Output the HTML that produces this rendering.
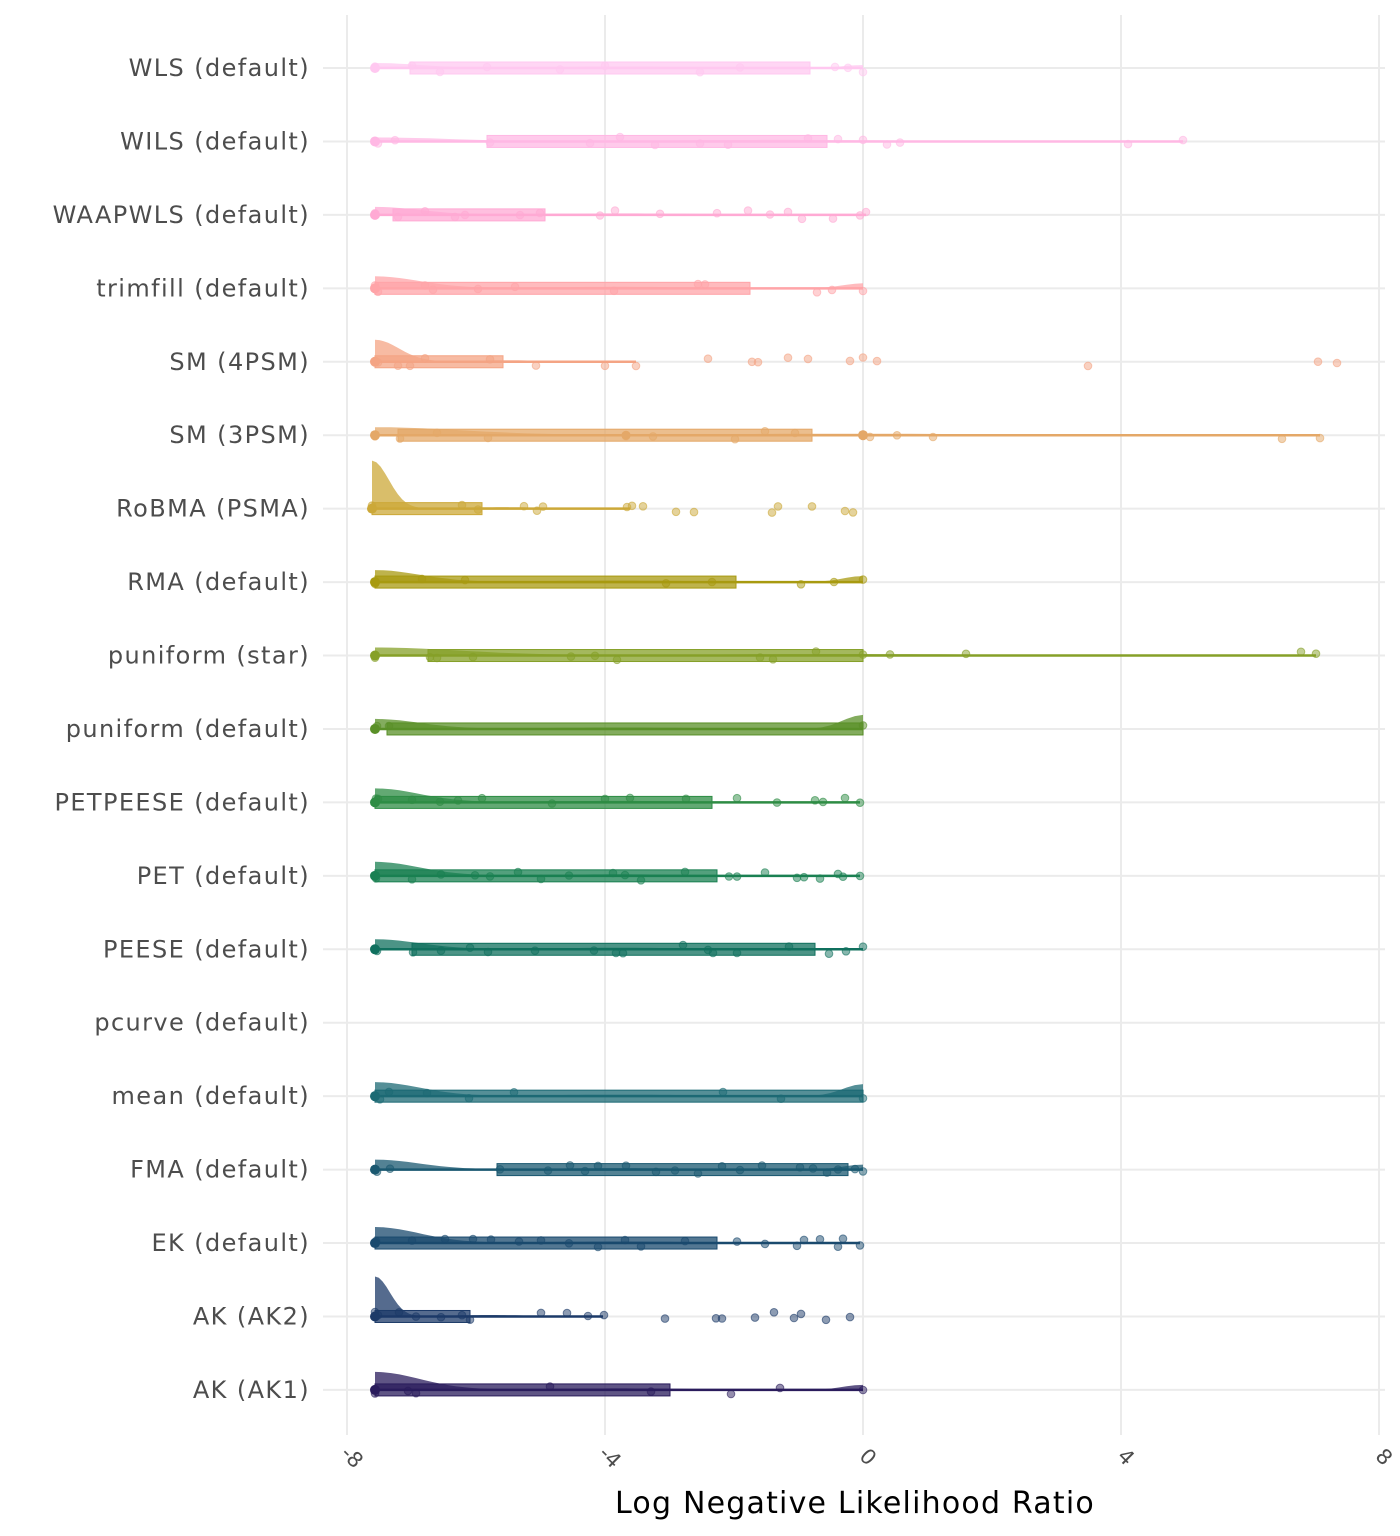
<!DOCTYPE html>
<html><head><meta charset="utf-8"><style>
body{margin:0;background:#fff}
svg{display:block}
text{font-family:"DejaVu Sans","Liberation Sans",sans-serif}
</style></head><body>
<svg id="s" width="1400" height="1536" xmlns="http://www.w3.org/2000/svg">
<g stroke="#ebebeb" stroke-width="2">
<line x1="347" y1="15" x2="347" y2="1435"/><line x1="605" y1="15" x2="605" y2="1435"/>
<line x1="863" y1="15" x2="863" y2="1435"/><line x1="1121" y1="15" x2="1121" y2="1435"/>
<line x1="1379" y1="15" x2="1379" y2="1435"/>
</g>
<g id="rows"></g>
<g font-size="24" fill="#4d4d4d" text-anchor="end" id="labs" style="letter-spacing:1.4px"></g>
<g font-size="21" fill="#4d4d4d" text-anchor="middle">
<text transform="translate(347,1462) rotate(45)">-8</text>
<text transform="translate(605,1462) rotate(45)">-4</text>
<text transform="translate(863,1462) rotate(45)">0</text>
<text transform="translate(1121,1462) rotate(45)">4</text>
<text transform="translate(1379,1462) rotate(45)">8</text>
</g>
<text x="855" y="1513" font-size="30" text-anchor="middle" fill="#000" style="letter-spacing:1.2px">Log Negative Likelihood Ratio</text>
</svg>
<script>
var R=[
["WLS (default)","#ffc8f0",375,863,410,810,5,[375,412,440,487,560,605,700,740,835,848,863]],
["WILS (default)","#ffb8e4",375,1183,487,827,4,[378,395,490,590,620,655,700,728,808,838,863,887,900,1128,1183]],
["WAAPWLS (default)","#ffaad4",375,866,393,545,8,[375,398,425,455,465,520,540,600,615,660,717,748,770,788,802,833,860,866]],
["trimfill (default)","#ffa4a8",375,863,375,750,12,[375,378,425,433,478,515,614,698,705,817,832,863]],
["SM (4PSM)","#f4a484",375,636,375,503,22,[378,398,410,425,490,536,605,636,708,752,758,788,808,850,863,877,1088,1318,1337]],
["SM (3PSM)","#e4a868",375,1320,398,812,8,[375,400,437,488,626,653,735,765,795,863,870,897,933,1282,1320]],
["RoBMA (PSMA)","#cca838",372,630,372,482,48,[372,462,478,524,537,543,627,632,643,676,694,772,778,812,845,853]],
["RMA (default)","#a89a10",375,863,375,736,12,[375,422,465,666,712,801,834,863]],
["puniform (star)","#86a028",375,1316,428,863,8,[375,430,437,473,571,595,617,760,773,816,863,890,966,1301,1316]],
["puniform (default)","#5a9028",375,863,387,863,10,[377,389,863]],
["PETPEESE (default)","#2e8c44",375,860,375,712,14,[376,378,412,440,458,482,552,605,630,686,737,777,815,823,845,860]],
["PET (default)","#1a8052",375,860,375,717,14,[376,412,441,475,490,518,541,569,613,625,641,685,729,737,765,797,804,820,838,843,860]],
["PEESE (default)","#10705e",375,863,412,815,10,[377,413,441,470,488,535,594,616,623,683,708,713,737,789,829,846,863]],
["pcurve (default)","#000",0,0,0,0,0,[]],
["mean (default)","#1c6a74",375,863,375,863,14,[375,380,389,427,469,514,723,781,863]],
["FMA (default)","#1a5870",375,863,497,848,10,[377,390,500,548,570,585,598,626,656,675,698,722,740,762,800,813,827,838,855,863]],
["EK (default)","#1a4a6e",375,860,375,717,16,[376,412,445,473,491,519,541,569,598,625,641,685,737,765,797,804,820,838,843,860]],
["AK (AK2)","#1c3a68",375,603,375,470,40,[375,378,399,416,441,462,470,541,567,588,604,665,716,722,755,774,794,801,826,850]],
["AK (AK1)","#2a1c5c",375,863,375,670,18,[375,408,416,550,651,731,780,863]]
];
var endBump={9:14,14:12,7:6,0:3,3:5,15:5,18:5};
var g=document.getElementById('rows'),L=document.getElementById('labs'),h='',t='';
var seed=3;function rnd(){seed=(seed*9301+49297)%233280;return seed/233280;}
R.forEach(function(r,i){var y=68+i*73.44;
h+='<line x1="323" y1="'+y+'" x2="1385" y2="'+y+'" stroke="#ebebeb" stroke-width="2"/>';
t+='<text x="310" y="'+(y+8)+'">'+r[0]+'</text>';
if(!r[2])return;var c=r[1];
var a=r[2],b=r[3],pk=r[6],eb=endBump[i]||1;var p='M'+a+' '+y;
for(var k=0;k<=60;k++){var f=k/60;var x=a+(b-a)*f;var v=pk*Math.exp(-f*f*(pk>30?120:60))+1.5*Math.exp(-(f-0.5)*(f-0.5)*20)+eb*Math.exp(-(1-f)*(1-f)*300);p+=' L'+x.toFixed(1)+' '+(y-v).toFixed(1);}
p+=' L'+b+' '+y+'Z';
h+='<path d="'+p+'" fill="'+c+'" fill-opacity="0.75"/>';
h+='<line x1="'+a+'" y1="'+y+'" x2="'+b+'" y2="'+y+'" stroke="'+c+'" stroke-width="2.5"/>';
h+='<rect x="'+r[4]+'" y="'+(y-6)+'" width="'+(r[5]-r[4])+'" height="12" fill="'+c+'" fill-opacity="0.75" stroke="'+c+'" stroke-width="1"/>';
r[7].forEach(function(x){var yy=y+(rnd()-0.5)*9;h+='<circle cx="'+x+'" cy="'+yy.toFixed(1)+'" r="3.8" fill="'+c+'" fill-opacity="0.5" stroke="'+c+'" stroke-opacity="0.6"/>';});
if(i==5){h+='<circle cx="863" cy="'+y+'" r="5" fill="'+c+'"/><circle cx="626" cy="'+y+'" r="4.5" fill="'+c+'"/>';}
h+='<circle cx="'+a+'" cy="'+y+'" r="5" fill="'+c+'"/>';
});
g.innerHTML=h;L.innerHTML=t;
</script>
</body></html>
